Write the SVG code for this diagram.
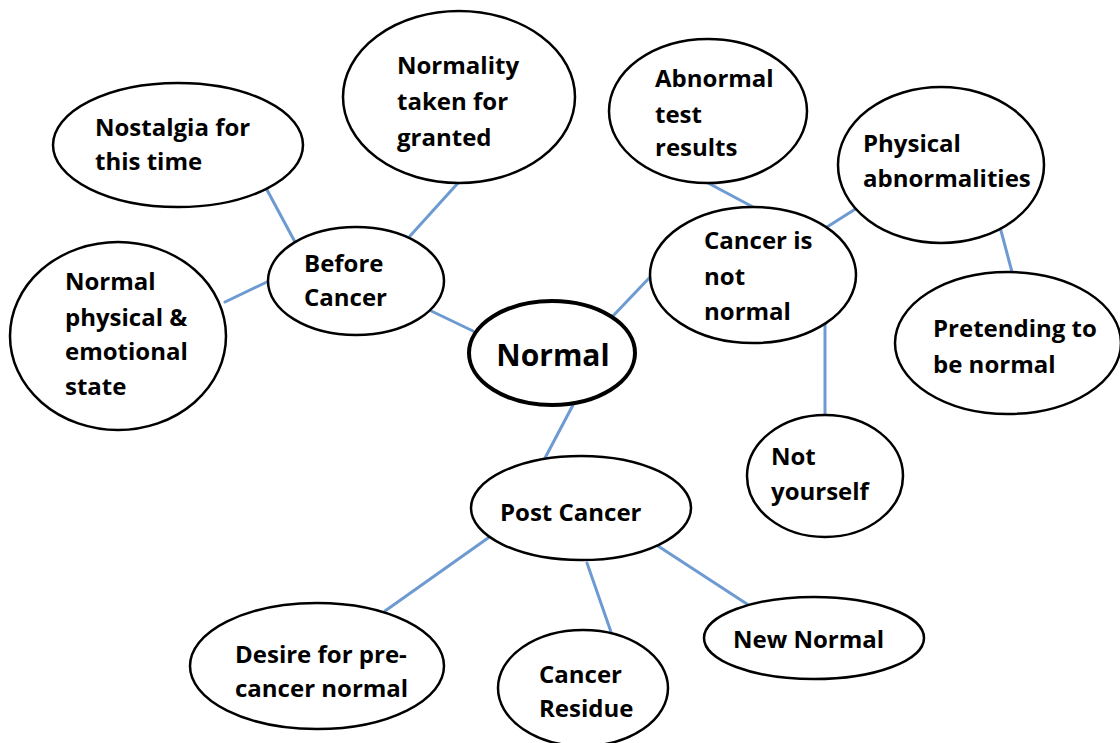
<svg xmlns="http://www.w3.org/2000/svg" width="1120" height="743" viewBox="0 0 1120 743">
<style>
.n{fill:#fff;stroke:#000;stroke-width:2.5}
.c{fill:#fff;stroke:#000;stroke-width:4}
.t{font-family:"Open Sans",Lato,"Liberation Sans",sans-serif;font-weight:700;font-size:24px;fill:#000}
.big{font-size:30px}
#connectors line{stroke:#6d9bd1;stroke-width:3;stroke-linecap:round}
</style>
<rect width="1120" height="743" fill="#fff"/>
<g id="connectors">
<line x1="266" y1="188" x2="295" y2="242"/>
<line x1="458" y1="183" x2="410" y2="236"/>
<line x1="225" y1="302" x2="269" y2="281"/>
<line x1="425" y1="308" x2="473" y2="331"/>
<line x1="612" y1="317" x2="652" y2="275"/>
<line x1="708" y1="183" x2="753" y2="207"/>
<line x1="857" y1="208" x2="827" y2="227"/>
<line x1="1000" y1="227" x2="1012" y2="272"/>
<line x1="825" y1="323" x2="825" y2="415"/>
<line x1="573" y1="405" x2="545" y2="458"/>
<line x1="488" y1="538" x2="385" y2="611"/>
<line x1="587" y1="563" x2="611" y2="632"/>
<line x1="658" y1="546" x2="750" y2="606"/>
</g>
<g id="nostalgia"><ellipse class="n" cx="178" cy="145" rx="125" ry="62"/><text class="t" x="95" y="136">Nostalgia for</text><text class="t" x="95" y="170">this time</text></g>
<g id="normality"><ellipse class="n" cx="459" cy="97" rx="116" ry="86"/><text class="t" x="397" y="74">Normality</text><text class="t" x="397" y="110">taken for</text><text class="t" x="397" y="146">granted</text></g>
<g id="before"><ellipse class="n" cx="356" cy="281" rx="88" ry="54"/><text class="t" x="304" y="272">Before</text><text class="t" x="304" y="306">Cancer</text></g>
<g id="normalphys"><ellipse class="n" cx="118" cy="336" rx="108" ry="94"/><text class="t" x="65" y="290">Normal</text><text class="t" x="65" y="326">physical &amp;</text><text class="t" x="65" y="360">emotional</text><text class="t" x="65" y="395">state</text></g>
<g id="normal"><ellipse class="c" cx="552" cy="353" rx="83" ry="52"/><text class="t big" x="553" y="366" text-anchor="middle">Normal</text></g>
<g id="abnormal"><ellipse class="n" cx="708" cy="111" rx="99" ry="72"/><text class="t" x="655" y="87">Abnormal</text><text class="t" x="655" y="123">test</text><text class="t" x="655" y="156">results</text></g>
<g id="physical"><ellipse class="n" cx="941" cy="165" rx="103" ry="78"/><text class="t" x="863" y="152">Physical</text><text class="t" x="863" y="187">abnormalities</text></g>
<g id="cancerisnot"><ellipse class="n" cx="753" cy="275" rx="103" ry="68"/><text class="t" x="704" y="249">Cancer is</text><text class="t" x="704" y="285">not</text><text class="t" x="704" y="320">normal</text></g>
<g id="pretending"><ellipse class="n" cx="1008" cy="343" rx="113" ry="71"/><text class="t" x="933" y="337">Pretending to</text><text class="t" x="933" y="373">be normal</text></g>
<g id="notyourself"><ellipse class="n" cx="825" cy="476" rx="78" ry="61"/><text class="t" x="771" y="465">Not</text><text class="t" x="771" y="500">yourself</text></g>
<g id="post"><ellipse class="n" cx="581" cy="508" rx="110" ry="52"/><text class="t" x="500" y="521">Post Cancer</text></g>
<g id="desire"><ellipse class="n" cx="317" cy="666" rx="127" ry="63"/><text class="t" x="235" y="663">Desire for pre-</text><text class="t" x="235" y="697">cancer normal</text></g>
<g id="residue"><ellipse class="n" cx="583" cy="688" rx="85" ry="58"/><text class="t" x="539" y="683">Cancer</text><text class="t" x="539" y="717">Residue</text></g>
<g id="newnormal"><ellipse class="n" cx="814" cy="638" rx="110" ry="41"/><text class="t" x="733" y="648">New Normal</text></g>
</svg>
